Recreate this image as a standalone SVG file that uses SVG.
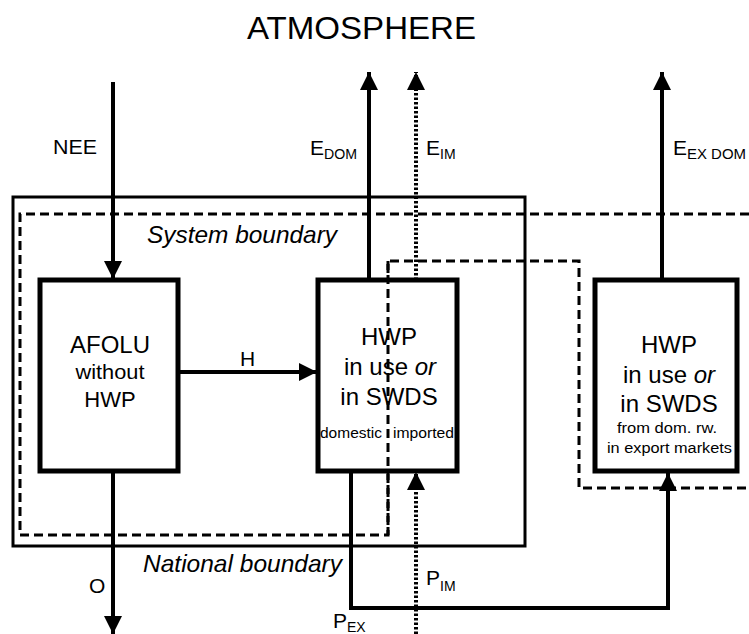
<svg xmlns="http://www.w3.org/2000/svg" width="749" height="634" viewBox="0 0 749 634">
<defs>
<style>
text{font-family:"Liberation Sans",Arial,sans-serif;fill:#000}
.box{fill:#fff;stroke:#000;stroke-width:5}
.flow{stroke:#000;stroke-width:4;fill:none}
.dot{stroke:#000;stroke-width:4;fill:none;stroke-dasharray:2.5 2}
.bnd{stroke:#000;stroke-width:3;fill:none}
.dash{stroke:#000;stroke-width:3;fill:none;stroke-dasharray:9 5}
.lbl{font-size:21px}
.sub{font-size:14px}
.it{font-style:italic;font-size:24px}
.big{font-size:24px}
.small{font-size:14px}
</style>
<marker id="ah" viewBox="0 0 10 10" refX="10" refY="5" markerWidth="18" markerHeight="18" orient="auto" markerUnits="userSpaceOnUse">
<path d="M0,0 L10,5 L0,10 z" fill="#000"/>
</marker>
</defs>
<rect width="749" height="634" fill="#fff"/>
<text x="247" y="39" font-size="32" textLength="229" lengthAdjust="spacingAndGlyphs">ATMOSPHERE</text>
<g id="boundaries">
<rect class="bnd" x="13" y="197" width="512" height="349"/>
<path class="dash" d="M749,214 H20 V535 H388 V261 H579 V488 H749"/>
<text class="it" x="147" y="243" textLength="190" lengthAdjust="spacingAndGlyphs">System boundary</text>
<text class="it" x="143" y="572" textLength="199" lengthAdjust="spacingAndGlyphs">National boundary</text>
</g>
<g id="connectors">
<line class="flow" x1="113" y1="82" x2="113" y2="279" marker-end="url(#ah)"/>
<line class="flow" x1="369" y1="280" x2="369" y2="72" marker-end="url(#ah)"/>
<line class="dot" x1="416" y1="280" x2="416" y2="72" marker-end="url(#ah)"/>
<line class="flow" x1="662" y1="280" x2="662" y2="72" marker-end="url(#ah)"/>
<line class="flow" x1="178" y1="372" x2="317" y2="372" marker-end="url(#ah)"/>
<line class="flow" x1="113" y1="471" x2="113" y2="634" marker-end="url(#ah)"/>
<path class="flow" d="M351,471 V608 H668 V473" marker-end="url(#ah)"/>
<line class="dot" x1="416" y1="634" x2="416" y2="472" marker-end="url(#ah)"/>
<text class="lbl" x="53" y="154" textLength="44" lengthAdjust="spacingAndGlyphs">NEE</text>
<text class="lbl" x="310" y="155">E<tspan class="sub" dy="4" textLength="33" lengthAdjust="spacingAndGlyphs">DOM</tspan></text>
<text class="lbl" x="426" y="155">E<tspan class="sub" dy="4">IM</tspan></text>
<text class="lbl" x="673" y="155">E<tspan class="sub" dy="4" textLength="59" lengthAdjust="spacingAndGlyphs">EX DOM</tspan></text>
<text class="lbl" x="240" y="366">H</text>
<text class="lbl" x="89" y="593">O</text>
<text class="lbl" x="426" y="585">P<tspan class="sub" dy="6">IM</tspan></text>
<text class="lbl" x="333" y="628">P<tspan class="sub" dy="4">EX</tspan></text>
</g>
<g id="afolu">
<rect class="box" x="40" y="280" width="138" height="191"/>
<text x="110" y="353" font-size="24" text-anchor="middle">AFOLU</text>
<text x="110" y="379" font-size="20" text-anchor="middle" textLength="69" lengthAdjust="spacingAndGlyphs">without</text>
<text x="110" y="407" font-size="22" text-anchor="middle">HWP</text>
</g>
<g id="hwp-domestic">
<rect class="box" x="318" y="280" width="139" height="191"/>
<text class="big" x="389" y="345" text-anchor="middle">HWP</text>
<text class="big" x="390" y="375" text-anchor="middle">in use <tspan font-style="italic">or</tspan></text>
<text class="big" x="389" y="405" text-anchor="middle">in SWDS</text>
<text class="small" x="320" y="438" textLength="62" lengthAdjust="spacingAndGlyphs">domestic</text>
<text class="small" x="393" y="438" textLength="61" lengthAdjust="spacingAndGlyphs">imported</text>
</g>
<g id="hwp-export">
<rect class="box" x="595" y="280" width="142" height="191"/>
<text class="big" x="669" y="353" text-anchor="middle">HWP</text>
<text class="big" x="669" y="383" text-anchor="middle">in use <tspan font-style="italic">or</tspan></text>
<text class="big" x="669" y="412" text-anchor="middle">in SWDS</text>
<text class="small" x="617" y="433" textLength="100" lengthAdjust="spacingAndGlyphs">from dom. rw.</text>
<text class="small" x="607" y="453" textLength="125" lengthAdjust="spacingAndGlyphs">in export markets</text>
</g>
<path class="dash" d="M388,261 V535"/>
</svg>
